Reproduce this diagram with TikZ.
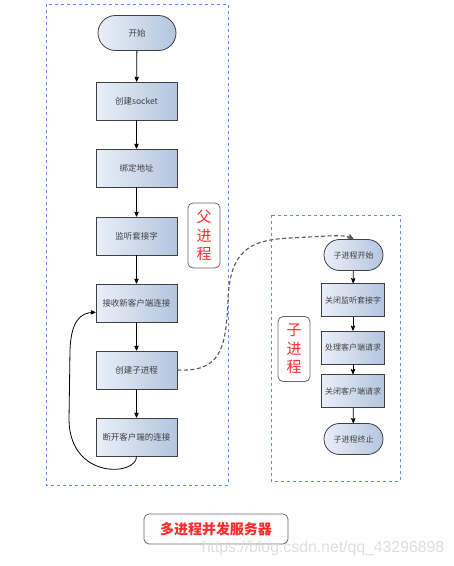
\documentclass[tikz,border=0pt]{standalone}
\usepackage{fontspec}
\setmainfont{Noto Sans CJK SC}
\newfontfamily\wmfont{Liberation Sans}
\usepackage{xcolor}
\usetikzlibrary{positioning,arrows,shapes.misc}

\definecolor{boxleft}{HTML}{EAEFF7}
\definecolor{boxright}{HTML}{B3C5DF}
\definecolor{boxline}{HTML}{404040}
\definecolor{boxtext}{HTML}{404040}
\definecolor{framecol}{HTML}{5B8EF0}
\definecolor{tagred}{HTML}{FF2A2A}

\begin{document}
\begin{tikzpicture}[->,>=stealth',x=1pt,y=-1pt,line width=0.8pt,
  stepbox/.style={rectangle,draw=boxline,left color=boxleft,right color=boxright,
    text=boxtext,font=\fontsize{8.5}{10}\selectfont,minimum width=81pt,minimum height=38pt,inner sep=1pt},
  smallbox/.style={stepbox,minimum width=63pt,minimum height=33pt,font=\fontsize{8}{10}\selectfont},
  term/.style={rounded rectangle,draw=boxline,left color=boxleft,right color=boxright,
    text=boxtext,font=\fontsize{8.5}{10}\selectfont,minimum width=80pt,minimum height=35pt,inner sep=1pt},
  smallterm/.style={term,minimum width=61pt,minimum height=31pt,font=\fontsize{8}{10}\selectfont},
  tag/.style={rectangle,rounded corners=5pt,draw=black!60,text=tagred,align=center,
    font=\fontsize{15}{18.5}\selectfont,minimum width=32pt,minimum height=65pt,inner sep=1pt},
  frame/.style={draw=framecol,dashed,line width=0.6pt,-}]

  \useasboundingbox (0,0) rectangle (454,566);

  % The frames
  \draw[frame] (46,4) rectangle (228,485);
  \draw[frame] (271,215) rectangle (400,481);

  % The parent process
  \node [term] at (137,33) (start) {开始};
  \node [stepbox] at (136.5,101) (sock) {创建socket};
  \node [stepbox] at (136.5,168) (bind) {绑定地址};
  \node [stepbox] at (136.5,236) (listen) {监听套接字};
  \node [stepbox] at (136.5,303) (accept) {接收新客户端连接};
  \node [stepbox] at (136.5,370) (fork) {创建子进程};
  \node [stepbox] at (136.5,437) (close) {断开客户端的连接};
  \node [tag] at (204,235.5) (ptag) {父\\进\\程};

  % The child process
  \node [smallterm] at (353.5,255) (kidstart) {子进程开始};
  \node [smallbox] at (353,300) (kidclose) {关闭监听套接字};
  \node [smallbox] at (353,347.5) (serve) {处理客户端请求};
  \node [smallbox] at (353,391) (kidend) {关闭客户端请求};
  \node [smallterm] at (353.5,439) (kidstop) {子进程终止};
  \node [tag] at (294,349) (ctag) {子\\进\\程};

  % Caption
  \node [tag,font=\bfseries\fontsize{14}{16}\selectfont,minimum width=144pt,minimum height=30pt] at (216,529) (title) {多进程并发服务器};
  \node [text=black!13,font=\wmfont\fontsize{15.8}{17}\selectfont] at (323,548) (mark) {https://blog.csdn.net/qq\_43296898};

  % Graph edges
  \path[->]
  (start) edge (sock)
  (sock) edge (bind)
  (bind) edge (listen)
  (listen) edge (accept)
  (accept) edge (fork)
  (fork) edge (close)
  (kidstart) edge (kidclose)
  (kidclose) edge (serve)
  (serve) edge (kidend)
  (kidend) edge (kidstop);

  \draw[->] (close.south) .. controls (137,476) and (70,480) .. (69,420)
    -- (70,350) .. controls (71,322) and (80,312) .. (accept.193);

  \draw[->,draw=black!65,line width=1.1pt,dash pattern=on 4pt off 2.5pt] (fork.east) .. controls (220,372) and (226,350) .. (228,300)
    .. controls (230,250) and (250,240) .. (290,238)
    .. controls (330,236) and (345,234) .. (kidstart.north);

\end{tikzpicture}
\end{document}
